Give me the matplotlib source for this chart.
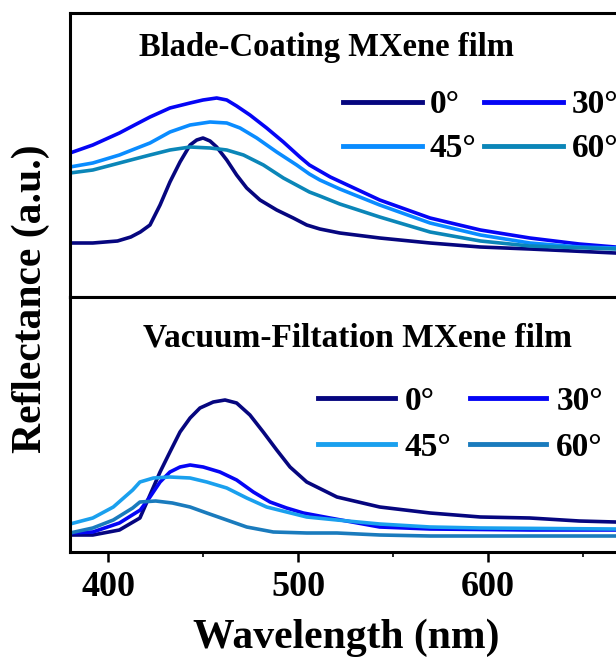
import numpy as np
import matplotlib
matplotlib.use('Agg')
import matplotlib.pyplot as plt

plt.rcParams['font.family'] = ['Liberation Serif', 'DejaVu Serif']
plt.rcParams['font.weight'] = 'bold'

# angles and colours
labels = ['0°', '30°', '45°', '60°']
colors_top = ['#06067f', '#0505f5', '#0a8cff', '#0b86b8']
colors_bot = ['#06067f', '#0505f5', '#1aa0ee', '#1a7bbd']

# Blade-Coating film (top panel), wavelength in nm, reflectance in a.u.
blade_x = {
    '0°': [380, 392, 405, 412, 417, 422.1, 427.4, 432.6, 437.9, 443.2, 446.7, 450, 453.7, 457.2,
           462.5, 467.7, 473, 480, 488.8, 497.5, 504.6, 511.5, 522, 543, 569.5, 596, 622, 667],
    '30°': [380, 392, 406, 414, 422.1, 432.6, 443.2, 450, 457.2, 462.5, 467.7, 474.7, 483.5,
            492.3, 501, 506, 517, 543, 569.5, 596, 622, 648, 667],
    '45°': [380, 392, 406, 414, 422.1, 432.6, 443.2, 453.7, 462.5, 469.5, 478.3, 488.8, 499.3,
            506, 511.5, 522, 543, 569.5, 596, 622, 648, 667],
    '60°': [380, 392, 406, 414, 422.1, 432.6, 443.2, 453.7, 462.5, 471.3, 481.8, 492.3, 506,
            511.5, 522, 543, 569.5, 596, 622, 667],
}
blade_y = {
    '0°': [0.54, 0.54, 0.56, 0.60, 0.65, 0.72, 0.92, 1.15, 1.35, 1.52, 1.57, 1.59, 1.56, 1.50,
           1.37, 1.22, 1.09, 0.97, 0.87, 0.79, 0.72, 0.68, 0.64, 0.59, 0.54, 0.50, 0.48, 0.44],
    '30°': [1.44, 1.52, 1.64, 1.72, 1.80, 1.89, 1.94, 1.97, 1.99, 1.97, 1.91, 1.82, 1.69, 1.55,
            1.40, 1.32, 1.20, 0.97, 0.79, 0.67, 0.59, 0.53, 0.50],
    '45°': [1.30, 1.34, 1.42, 1.48, 1.54, 1.65, 1.72, 1.75, 1.74, 1.69, 1.59, 1.45, 1.32, 1.23,
            1.17, 1.08, 0.92, 0.74, 0.62, 0.54, 0.50, 0.49],
    '60°': [1.24, 1.27, 1.34, 1.38, 1.42, 1.47, 1.50, 1.49, 1.47, 1.42, 1.32, 1.19, 1.05, 1.01,
            0.93, 0.80, 0.65, 0.56, 0.51, 0.48],
}

# Vacuum-Filtation film (bottom panel)
vac_x = {
    '0°': [380, 392, 406, 416.8, 422.1, 427.4, 432.6, 437.9, 443.2, 448.4, 455.4, 461.6, 467.7,
           474.7, 481.7, 488.8, 495.8, 504.6, 520.5, 543, 569.5, 596, 622, 648, 667],
    '30°': [380, 392, 406, 417, 422.1, 427.4, 432.6, 437.9, 443.2, 450.1, 458.9, 467.7, 476.5,
            485.3, 494, 502.8, 516.8, 543, 569.5, 622, 667],
    '45°': [380, 392, 402.8, 413, 416.8, 423.9, 432.6, 443.2, 452, 462.5, 473, 483.5, 494,
            504.6, 520.5, 543, 569.5, 596, 667],
    '60°': [380, 392, 402.8, 413, 416.8, 425.1, 433.9, 443.2, 452, 462.5, 473, 487, 504.6,
            520.5, 543, 569.5, 667],
}
vac_y = {
    '0°': [0.17, 0.17, 0.22, 0.34, 0.57, 0.80, 1.00, 1.20, 1.34, 1.44, 1.50, 1.52, 1.49, 1.37,
           1.20, 1.02, 0.85, 0.70, 0.55, 0.45, 0.39, 0.35, 0.34, 0.31, 0.30],
    '30°': [0.19, 0.20, 0.29, 0.42, 0.55, 0.70, 0.80, 0.85, 0.87, 0.85, 0.80, 0.72, 0.60, 0.50,
            0.44, 0.39, 0.34, 0.25, 0.23, 0.22, 0.22],
    '45°': [0.28, 0.34, 0.45, 0.62, 0.70, 0.74, 0.75, 0.74, 0.70, 0.64, 0.54, 0.45, 0.40, 0.35,
            0.32, 0.28, 0.25, 0.24, 0.23],
    '60°': [0.19, 0.24, 0.32, 0.44, 0.50, 0.51, 0.49, 0.45, 0.39, 0.32, 0.25, 0.20, 0.19, 0.19,
            0.17, 0.16, 0.16],
}

fig = plt.figure(figsize=(6.16, 6.6), dpi=100)
ax_top = fig.add_axes([70 / 616, (660 - 297) / 660, 551 / 616, 284 / 660])
ax_bot = fig.add_axes([70 / 616, (660 - 552) / 660, 551 / 616, 255 / 660])

panels = [
    (ax_top, blade_x, blade_y, colors_top, 2.84, 'Blade-Coating MXene film', 23.5, (0.466, 0.877),
     dict(bbox_to_anchor=(0.495, 0.731), handlelength=2.37, handletextpad=0.24,
          columnspacing=0.24, labelspacing=0.39)),
    (ax_bot, vac_x, vac_y, colors_bot, 2.55, 'Vacuum-Filtation MXene film', 24, (0.521, 0.839),
     dict(bbox_to_anchor=(0.45, 0.651), handlelength=2.3, handletextpad=0.3,
          columnspacing=0.55, labelspacing=0.45)),
]

for ax, xs, ys, cols, ytop, title, tsize, tpos, lkw in panels:
    lines = {}
    for lab, col in zip(labels, cols):
        lines[lab], = ax.plot(xs[lab], ys[lab], color=col, lw=2.6, label=lab)
    ax.set_xlim(380, 670)
    ax.set_ylim(0, ytop)
    ax.set_yticks([])
    for s in ax.spines.values():
        s.set_linewidth(2.2)
    ax.text(tpos[0], tpos[1], title, transform=ax.transAxes, ha='center', va='center',
            fontsize=tsize, fontweight='bold')
    # column-wise filling, so order gives rows 0/30 and 45/60
    order = ['0°', '45°', '30°', '60°']
    leg = ax.legend([lines[k] for k in order], order, ncol=2, loc='upper left',
                    frameon=False, fontsize=24, borderpad=0, borderaxespad=0, **lkw)
    for h in leg.legend_handles:
        h.set_linewidth(3.5)

ax_top.set_xticks([])
ax_bot.set_xticks([400, 500, 600])
ax_bot.set_xticks([450, 550, 650], minor=True)
ax_bot.tick_params(axis='x', which='major', length=7, width=1.8, labelsize=26, pad=7)
ax_bot.tick_params(axis='x', which='minor', length=3.5, width=1.2)
for t in ax_bot.get_xticklabels():
    t.set_fontweight('bold')

fig.text(0.05, 0.548, 'Reflectance (a.u.)', rotation=90, ha='center', va='center',
         fontsize=30, fontweight='bold')
fig.text(346 / 616, 0.034, 'Wavelength (nm)', ha='center', va='center',
         fontsize=30, fontweight='bold')

fig.savefig('out.png', dpi=100)
